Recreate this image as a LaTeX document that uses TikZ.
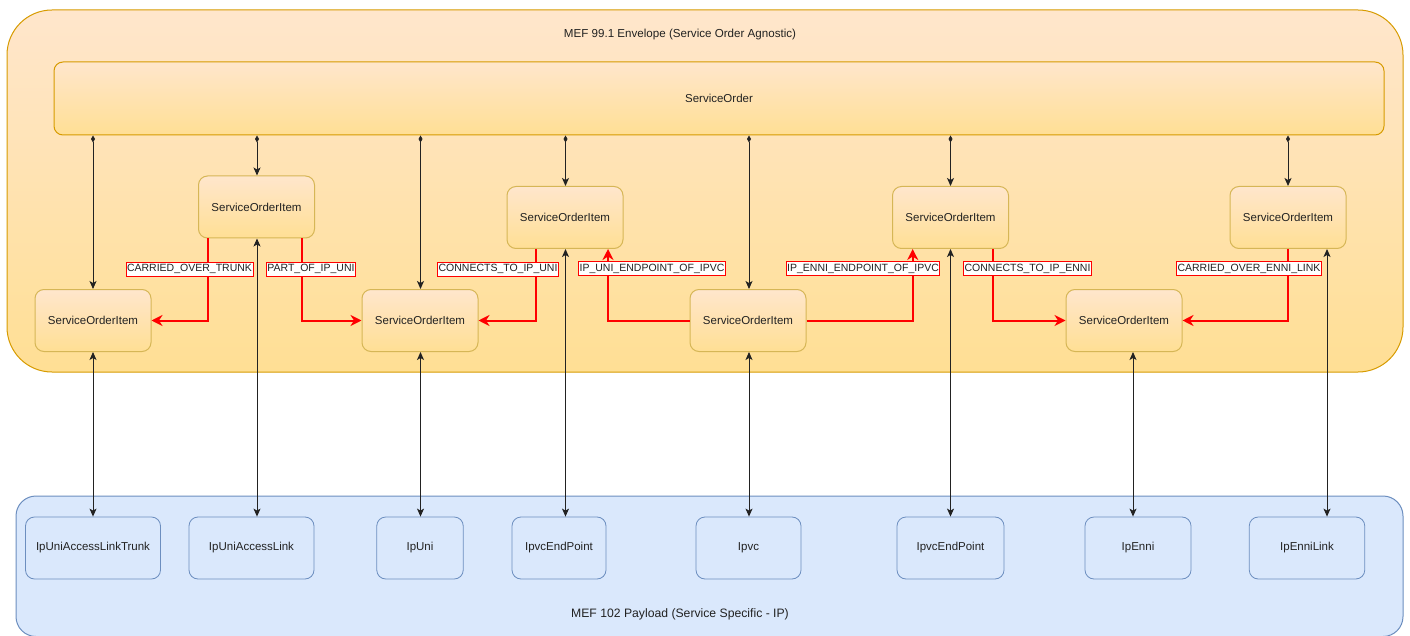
\documentclass[tikz,border=0pt]{standalone}
\usepackage{fontspec}
\setmainfont{Liberation Sans}
\usetikzlibrary{arrows.meta}

\definecolor{envStroke}{HTML}{D79B00}
\definecolor{envTop}{HTML}{FFE6CC}
\definecolor{envBottom}{HTML}{FFDF94}
\definecolor{itemStroke}{HTML}{D6B656}
\definecolor{payFill}{HTML}{DAE8FC}
\definecolor{payStroke}{HTML}{6C8EBF}
\definecolor{relRed}{HTML}{FF0000}
\definecolor{ink}{HTML}{222222}

\tikzset{
  basefont/.style={font=\fontsize{11.5}{13}\selectfont, text=ink},
  envbox/.style={draw=envStroke, line width=1pt, rounded corners=45pt,
    top color=envTop, bottom color=envBottom},
  orderbox/.style={draw=envStroke, line width=1pt, rounded corners=9pt,
    top color=envTop, bottom color=envBottom,
    minimum width=1330pt, minimum height=73pt, basefont},
  soitem/.style={draw=itemStroke, line width=1pt, rounded corners=9pt,
    top color=envTop, bottom color=envBottom,
    minimum width=116pt, minimum height=62pt, basefont},
  paybox/.style={draw=payStroke, line width=1pt, rounded corners=20pt, fill=payFill},
  payitem/.style={draw=payStroke, line width=0.8pt, rounded corners=9pt, fill=payFill,
    minimum height=62pt, basefont},
  title/.style={text=ink, font=\fontsize{11.6}{13}\selectfont},
  own/.style={draw=ink, line width=0.9pt,
    {Diamond[length=7pt,width=4pt]}-{Stealth[length=8pt,width=7pt,inset=2pt]}},
  link/.style={draw=ink, line width=0.9pt,
    {Stealth[length=8pt,width=7pt,inset=2pt]}-{Stealth[length=8pt,width=7pt,inset=2pt]}},
  rel/.style={draw=relRed, line width=2pt,
    -{Stealth[length=11pt,width=11pt,inset=3.5pt]}},
  rellabel/.style={draw=relRed, line width=0.8pt, fill=white,
    font=\fontsize{10.5}{12}\selectfont, text=ink,
    inner xsep=1pt, inner ysep=0pt, minimum height=14pt}
}

\begin{document}
\begin{tikzpicture}[x=1pt,y=-1pt]
\useasboundingbox (0,0) rectangle (1410,636);
\clip (0,0) rectangle (1410,636);

% containers
\node[envbox, minimum width=1396pt, minimum height=362pt] (env) at (705,191) {};
\node[title] (envtitle) at (680,35) {MEF 99.1 Envelope (Service Order Agnostic)};
\node[paybox, minimum width=1387pt, minimum height=140.5pt] (pay) at (709.5,566.25) {};
\node[title, font=\fontsize{12.2}{14}\selectfont] (paytitle) at (680,614) {MEF 102 Payload (Service Specific - IP)};

% service order
\node[orderbox] (SO) at (719,98.5) {ServiceOrder};

% service order items, upper row
\node[soitem] (A1) at (256.5,207) {ServiceOrderItem};
\node[soitem] (A2) at (565,217.5) {ServiceOrderItem};
\node[soitem] (A3) at (950.5,217.5) {ServiceOrderItem};
\node[soitem] (A4) at (1288,217.5) {ServiceOrderItem};
% service order items, lower row
\node[soitem] (B1) at (93,320.5) {ServiceOrderItem};
\node[soitem] (B2) at (420,320.5) {ServiceOrderItem};
\node[soitem] (B3) at (748,320.5) {ServiceOrderItem};
\node[soitem] (B4) at (1124,320.5) {ServiceOrderItem};

% payload objects
\node[payitem, minimum width=135pt] (P1) at (93,548) {IpUniAccessLinkTrunk};
\node[payitem, minimum width=125pt] (P2) at (251.5,548) {IpUniAccessLink};
\node[payitem, minimum width=86.5pt] (P3) at (420,548) {IpUni};
\node[payitem, minimum width=94pt] (P4) at (559,548) {IpvcEndPoint};
\node[payitem, minimum width=105pt] (P5) at (748.5,548) {Ipvc};
\node[payitem, minimum width=107pt] (P6) at (950.5,548) {IpvcEndPoint};
\node[payitem, minimum width=106pt] (P7) at (1138,548) {IpEnni};
\node[payitem, minimum width=115.5pt] (P8) at (1307,548) {IpEnniLink};

% columns of the vertical connectors
\coordinate (x1) at (93,0);
\coordinate (x2) at (257,0);
\coordinate (x3) at (420.5,0);
\coordinate (x4) at (565.5,0);
\coordinate (x5) at (749,0);
\coordinate (x6) at (950.5,0);
\coordinate (x7) at (1288,0);
\coordinate (x8) at (1133,0);
\coordinate (x9) at (1327,0);

% ownership: ServiceOrder -> items
\draw[own] (SO.south -| x1) -- (B1.north -| x1);
\draw[own] (SO.south -| x2) -- (A1.north -| x2);
\draw[own] (SO.south -| x3) -- (B2.north -| x3);
\draw[own] (SO.south -| x4) -- (A2.north -| x4);
\draw[own] (SO.south -| x5) -- (B3.north -| x5);
\draw[own] (SO.south -| x6) -- (A3.north -| x6);
\draw[own] (SO.south -| x7) -- (A4.north -| x7);

% items <-> payload objects
\draw[link] (B1.south -| x1) -- (P1.north -| x1);
\draw[link] (A1.south -| x2) -- (P2.north -| x2);
\draw[link] (B2.south -| x3) -- (P3.north -| x3);
\draw[link] (A2.south -| x4) -- (P4.north -| x4);
\draw[link] (B3.south -| x5) -- (P5.north -| x5);
\draw[link] (A3.south -| x6) -- (P6.north -| x6);
\draw[link] (B4.south -| x8) -- (P7.north -| x8);
\draw[link] (A4.south -| x9) -- (P8.north -| x9);

% relationships between items
\coordinate (r1) at (208,0);
\coordinate (r2) at (301.7,0);
\coordinate (r3) at (535.7,0);
\coordinate (r4) at (608,0);
\coordinate (r5) at (912.7,0);
\coordinate (r6) at (993,0);
\coordinate (r7) at (1287.7,0);

\draw[rel] (A1.south -| r1) |- (B1.east);
\draw[rel] (A1.south -| r2) |- (B2.west);
\draw[rel] (A2.south -| r3) |- (B2.east);
\draw[rel] (B3.west) -| (A2.south -| r4);
\draw[rel] (B3.east) -| (A3.south -| r5);
\draw[rel] (A3.south -| r6) |- (B4.west);
\draw[rel] (A4.south -| r7) |- (B4.east);

\node[rellabel] (l1) at (189.5,269) {CARRIED\_OVER\_TRUNK};
\node[rellabel] (l2) at (311,269) {PART\_OF\_IP\_UNI};
\node[rellabel] (l3) at (498,269) {CONNECTS\_TO\_IP\_UNI};
\node[rellabel] (l4) at (652,268.5) {IP\_UNI\_ENDPOINT\_OF\_IPVC};
\node[rellabel] (l5) at (863,268.5) {IP\_ENNI\_ENDPOINT\_OF\_IPVC};
\node[rellabel] (l6) at (1027.5,268.5) {CONNECTS\_TO\_IP\_ENNI};
\node[rellabel] (l7) at (1249,268.5) {CARRIED\_OVER\_ENNI\_LINK};
\end{tikzpicture}
\end{document}
